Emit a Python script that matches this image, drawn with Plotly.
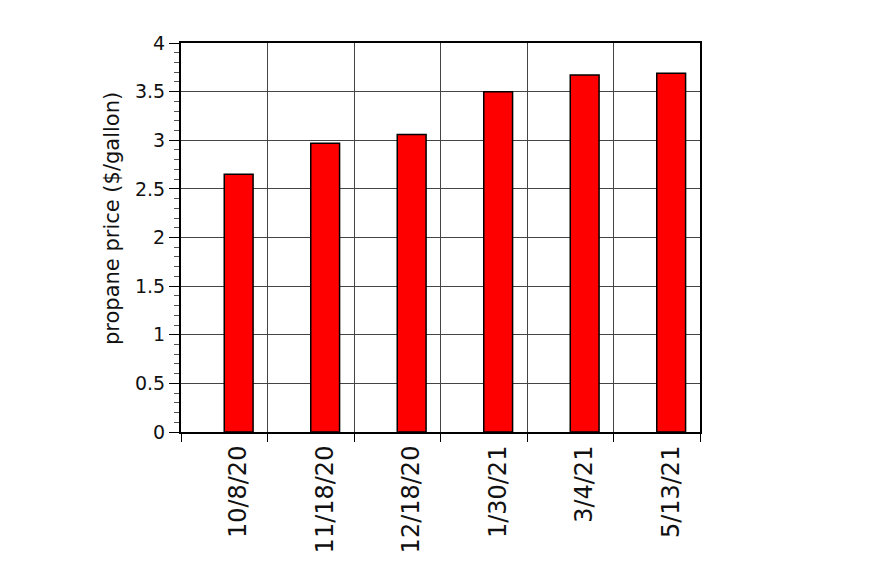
import plotly.graph_objects as go

# propane price readings
dates = ["10/8/20", "11/18/20", "12/18/20", "1/30/21", "3/4/21", "5/13/21"]
prices = [2.65, 2.97, 3.06, 3.50, 3.67, 3.69]
y_ticks = [0, 0.5, 1, 1.5, 2, 2.5, 3, 3.5, 4]

x_pos = list(range(len(dates)))
bar_w = 1 / 3

fig = go.Figure()
fig.add_trace(go.Bar(
    x=x_pos, y=prices, offset=0, width=bar_w,
    marker=dict(color="#ff0000", line=dict(color="#000000", width=1.5)),
))

font = "DejaVu Sans"
# page body adds 8px on top/left
fig.update_layout(
    width=875, height=583,
    margin=dict(l=173, r=183, t=35, b=159),
    paper_bgcolor="white", plot_bgcolor="white",
    showlegend=False,
    font=dict(family=font, color="#111111"),
)
fig.update_xaxes(
    range=[-0.5, len(dates) - 0.5],
    tickmode="array", tickvals=[i + bar_w / 2 for i in x_pos], ticktext=dates,
    tickangle=-90, ticks="", tickfont=dict(size=24, family=font),
    ticklabelstandoff=2,
    showgrid=False, zeroline=False,
    showline=True, linecolor="black", linewidth=2, mirror=True,
    minor=dict(tickmode="linear", tick0=-0.5, dtick=1, ticks="outside", ticklen=8,
               tickcolor="black", tickwidth=1, showgrid=True,
               gridcolor="#444444", gridwidth=1),
)
fig.update_yaxes(
    range=[0, 4], tickmode="array", tickvals=y_ticks,
    ticks="outside", ticklen=10, tickcolor="black", tickwidth=1,
    tickfont=dict(size=19, family=font),
    showgrid=True, gridcolor="#444444", gridwidth=1, zeroline=False,
    showline=True, linecolor="black", linewidth=2, mirror=True,
    minor=dict(dtick=0.1, ticks="outside", ticklen=5, tickcolor="#555555",
               tickwidth=1, showgrid=False),
)
fig.add_annotation(
    text="propane price ($/gallon)", textangle=-90,
    xref="paper", yref="paper", x=-0.133, y=0.55,
    xanchor="center", yanchor="middle",
    showarrow=False, font=dict(size=21, family=font, color="#111111"),
)

fig.write_html("out.html")
